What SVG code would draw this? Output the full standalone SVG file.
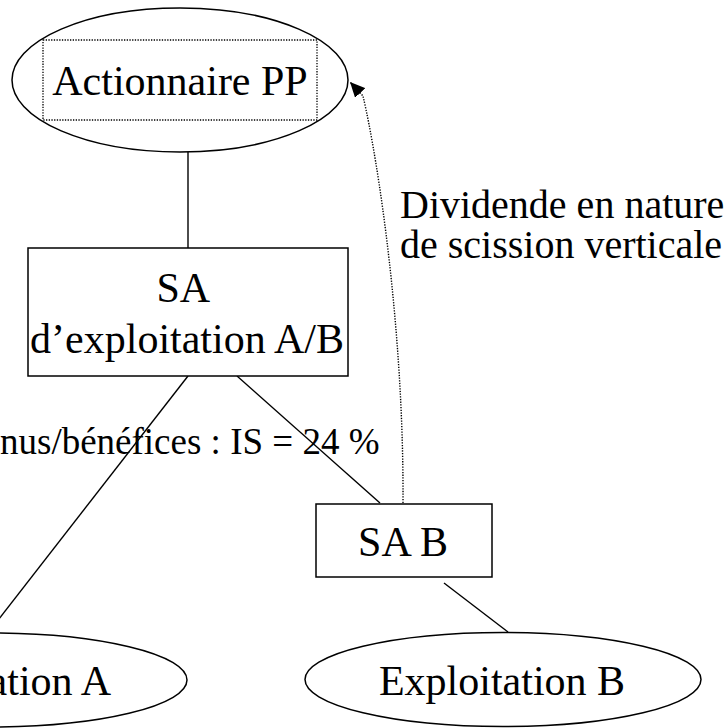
<svg xmlns="http://www.w3.org/2000/svg" width="727" height="728" viewBox="0 0 727 728">
  <style>
    .shape { fill: #ffffff; stroke: #000000; stroke-width: 1.5; }
    .frame { fill: none; stroke: #000000; stroke-width: 1.3; stroke-dasharray: 1.3 1.4; }
    .label { font-family: "Liberation Serif", "Times New Roman", serif; font-size: 42px; fill: #000000; }
    .note { font-family: "Liberation Serif", "Times New Roman", serif; fill: #000000; }
    .link { fill: none; stroke: #000000; stroke-width: 1.4; }
    .dotted { fill: none; stroke: #000000; stroke-width: 1.4; stroke-dasharray: 1.3 1.4; }
  </style>
  <defs>
    <marker id="arrowhead" markerUnits="userSpaceOnUse" markerWidth="16" markerHeight="14" refX="15" refY="7" orient="auto">
      <path d="M0,0 L15,7 L0,14 z" fill="#000000"/>
    </marker>
  </defs>
  <rect width="727" height="728" fill="#ffffff"/>

  <!-- connectors -->
  <g id="connectors">
    <line class="link" x1="188" y1="152" x2="188" y2="248"/>
    <line class="link" x1="188" y1="376" x2="-12" y2="633"/>
    <line class="link" x1="237" y1="376" x2="380" y2="503"/>
    <line class="link" x1="444" y1="583" x2="508" y2="632"/>
    <path class="dotted" d="M403,503 C404,330 378,160 363,96 L350,82" marker-end="url(#arrowhead)"/>
  </g>

  <!-- shareholder -->
  <g id="actionnaire">
    <ellipse class="shape" cx="180" cy="80" rx="168" ry="72"/>
    <rect class="frame" x="43" y="40" width="274" height="80"/>
    <text class="label" x="180" y="95" text-anchor="middle">Actionnaire PP</text>
  </g>

  <!-- operating company -->
  <g id="sa-exploitation">
    <rect class="shape" x="28" y="248" width="320" height="128"/>
    <text class="label" x="156.5" y="302">SA</text>
    <text class="label" x="187" y="353" text-anchor="middle">d’exploitation A/B</text>
  </g>

  <!-- spun-off company -->
  <g id="sa-b">
    <rect class="shape" x="316" y="504" width="176" height="73"/>
    <text class="label" x="403" y="556" text-anchor="middle">SA B</text>
  </g>

  <!-- businesses -->
  <g id="exploitation-a">
    <ellipse class="shape" cx="-11" cy="680" rx="198" ry="47"/>
    <text class="label" x="-12" y="695" text-anchor="middle">Exploitation A</text>
  </g>
  <g id="exploitation-b">
    <ellipse class="shape" cx="503" cy="679.5" rx="198" ry="47"/>
    <text class="label" x="502" y="695" text-anchor="middle">Exploitation B</text>
  </g>

  <!-- annotations -->
  <g id="notes">
    <text class="note" font-size="37" x="0" y="454">nus/bénéfices : IS = 24 %</text>
    <text class="note" font-size="40" x="400" y="218">Dividende en nature</text>
    <text class="note" font-size="40" x="400" y="258">de scission verticale</text>
  </g>
</svg>
